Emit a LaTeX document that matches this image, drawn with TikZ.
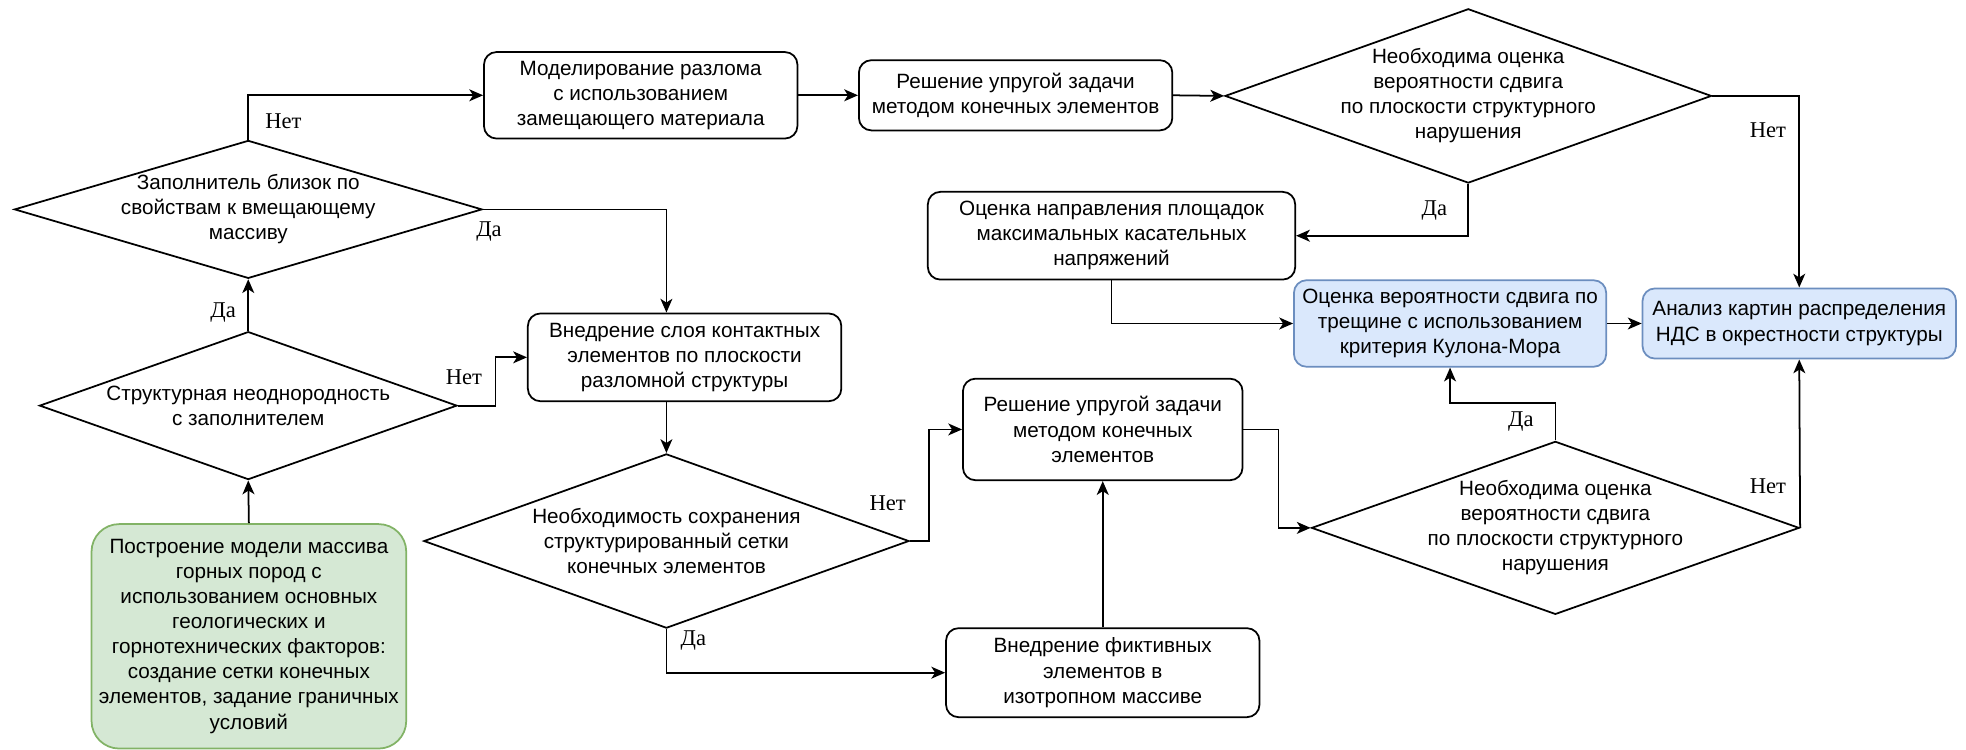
\documentclass[tikz,border=0pt]{standalone}
\usepackage{fontspec}
\setmainfont{Liberation Sans}
\newfontfamily\ynfont{Liberation Serif}
\usetikzlibrary{shapes.geometric,arrows.meta}

\definecolor{greenfill}{HTML}{D5E8D4}
\definecolor{greenline}{HTML}{82B366}
\definecolor{bluefill}{HTML}{DAE8FC}
\definecolor{blueline}{HTML}{6C8EBF}

\begin{document}
\begin{tikzpicture}[x=1pt,y=-1pt,
  txt/.style={font=\fontsize{16.5}{20}\selectfont, align=center},
  box/.style={txt, draw, line width=1.4pt, rounded corners=10pt, inner sep=0pt, fill=white},
  startbox/.style={box, fill=greenfill, draw=greenline, rounded corners=22pt},
  resbox/.style={box, fill=bluefill, draw=blueline},
  dia/.style={diamond, draw, line width=1.4pt, inner sep=0pt, fill=white},
  diatext/.style={txt, inner sep=0pt},
  yn/.style={font=\ynfont\fontsize{18}{20}\selectfont, inner sep=0pt},
  arr/.style={line width=1.4pt, -{Stealth[length=11pt, width=9.5pt, inset=3pt]}},
]
\useasboundingbox (0,0) rectangle (1568,598);

% process boxes
\node[startbox, minimum width=251pt, minimum height=179pt] (g) at (198.5,507.5)
  {Построение модели массива\\горных пород с\\использованием основных\\геологических и\\горнотехнических факторов:\\создание сетки конечных\\элементов, задание граничных\\условий};
\node[box, minimum width=250pt, minimum height=69pt] (a) at (511,76)
  {Моделирование разлома\\с использованием\\замещающего материала};
\node[box, minimum width=250pt, minimum height=56pt] (i) at (810,76)
  {Решение упругой задачи\\методом конечных элементов};
\node[box, minimum width=293pt, minimum height=70pt] (j) at (886.5,188)
  {Оценка направления площадок\\максимальных касательных\\напряжений};
\node[resbox, minimum width=249pt, minimum height=69pt] (f) at (1156.5,258)
  {Оценка вероятности сдвига по\\трещине с использованием\\критерия Кулона-Мора};
\node[resbox, minimum width=250pt, minimum height=56pt] (h) at (1435,258)
  {Анализ картин распределения\\НДС в окрестности структуры};
\node[box, minimum width=250pt, minimum height=70pt] (b) at (546,285)
  {Внедрение слоя контактных\\элементов по плоскости\\разломной структуры};
\node[box, minimum width=223pt, minimum height=81pt] (c) at (879.5,342.5)
  {Решение упругой задачи\\методом конечных\\элементов};
\node[box, minimum width=250pt, minimum height=71pt] (e) at (879.5,536.5)
  {Внедрение фиктивных\\элементов в\\изотропном массиве};

% decisions
\node[dia, minimum width=373pt, minimum height=110pt] (d1) at (198,167) {};
\node[diatext] (d1t) at (d1.center) {Заполнитель близок по\\свойствам к вмещающему\\массиву};
\node[dia, minimum width=333pt, minimum height=118pt] (d2) at (198,323.5) {};
\node[diatext] (d2t) at (d2.center) {Структурная неоднородность\\с заполнителем};
\node[dia, minimum width=387pt, minimum height=139pt] (d3) at (531.5,431.5) {};
\node[diatext] (d3t) at (d3.center) {Необходимость сохранения\\структурированный сетки\\конечных элементов};
\node[dia, minimum width=389pt, minimum height=138pt] (d4) at (1240.5,421) {};
\node[diatext] (d4t) at (d4.center) {Необходима оценка\\вероятности сдвига\\по плоскости структурного\\нарушения};
\node[dia, minimum width=388pt, minimum height=139pt] (d5) at (1171,76.5) {};
\node[diatext] (d5t) at (d5.center) {Необходима оценка\\вероятности сдвига\\по плоскости структурного\\нарушения};

% connectors
\draw[arr] (g.north) -- (d2.south);
\draw[arr] (d2.north) -- (d1.south);
\draw[arr] (d1.north) |- (a.west);
\draw[arr] (d1.east) -| (d3.north |- b.north);
\draw[arr] (d2.east) -- ++(30,0) |- (b.west);
\draw[arr] (a.east) -- (i.west);
\draw[arr] (i.east) -- (d5.west);
\draw[arr] (d5.east) -| (h.north);
\draw[arr] (d5.south) |- (j.east);
\draw[arr] (j.south) |- (f.west);
\draw[arr] (f.east) -- (h.west);
\draw[arr] (d3.north |- b.south) -- (d3.north);
\draw[arr] (d3.east) -- ++(15,0) |- (c.west);
\draw[arr] (d3.south) |- (e.west);
\draw[arr] (e.north) -- (c.south);
\draw[arr] (c.east) -- ++(28,0) |- (d4.west);
\draw[arr] (d4.north) -- ++(0,-30) -| (f.south);
\draw[arr] (d4.east) -- (h.south);

% branch labels
\node[yn] (l1) at (226,97) {Нет};
\node[yn] (l2) at (390,185) {Да};
\node[yn] (l3) at (178,249) {Да};
\node[yn] (l4) at (370,301) {Нет};
\node[yn] (l5) at (708,401) {Нет};
\node[yn] (l6) at (553,511) {Да};
\node[yn] (l7) at (1410,104) {Нет};
\node[yn] (l8) at (1144,168) {Да};
\node[yn] (l9) at (1213,336) {Да};
\node[yn] (l10) at (1410,388) {Нет};
\end{tikzpicture}
\end{document}
